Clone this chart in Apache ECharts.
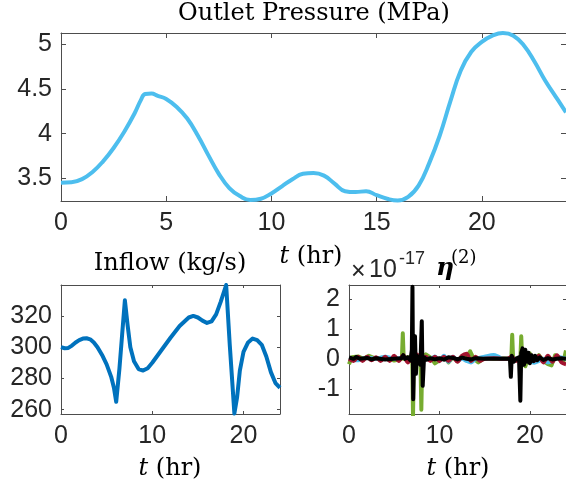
<!DOCTYPE html>
<html><head><meta charset="utf-8">
<script src="https://cdn.jsdelivr.net/npm/echarts@6/dist/echarts.min.js"></script>
<style>html,body{margin:0;padding:0;background:#fff}#c{width:566px;height:489px}</style>
</head><body><div id="c"></div>
<script>
// ---- data ----
const pressureT = [0,0.5,1,1.5,2,2.5,3,3.5,3.8,4,4.3,4.6,5,5.5,6,6.5,7,7.5,8,8.5,9,9.5,10,10.5,11,11.5,12,12.5,13,13.5,14,14.5,15,15.5,16,16.5,17,17.5,18,18.5,19,19.5,20,20.5,21,21.5,22,22.5,23,23.5,24];
const pressureV = [3.45,3.455,3.49,3.57,3.69,3.84,4.02,4.23,4.38,4.445,4.45,4.425,4.39,4.30,4.17,3.98,3.76,3.55,3.39,3.30,3.255,3.27,3.33,3.41,3.49,3.55,3.56,3.53,3.44,3.355,3.345,3.355,3.31,3.27,3.25,3.29,3.42,3.67,3.98,4.36,4.71,4.92,5.03,5.10,5.13,5.10,4.99,4.81,4.60,4.42,4.24];
const pressureXTicks = [0,5,10,15,20];
const pressureYTicks = [3.5,4,4.5,5];

const inflowT = [0,0.4,0.8,1.2,1.6,2,2.4,2.8,3.2,3.6,4,4.5,5,5.5,5.8,6.05,6.4,6.7,7.0,7.3,7.6,8,8.5,9,9.5,10,11,12,13,14,14.5,15,15.5,16,16.5,17,17.5,18.1,18.5,18.8,19.0,19.3,19.6,20,20.5,21,21.5,22,22.5,23,23.5,24];
const inflowV = [300,299.3,299.5,301,303,304.5,305.5,305.7,305,303,300,295,289,281,274,265,286,308,330,314,300,291,286,285,286.5,290,298,306,313.5,319,320,319,317,315.5,316.5,321,329,339.8,301,275,257.5,268,285,297,303,305.5,304.5,301.5,294,284,277,274];
const inflowYTicks = [260,280,300,320];
const bottomXTicks = [0,10,20];

const etaGreen = [[0,-0.18],[0.3,0.05],[1,0.08],[1.6,0.0],[2.2,0.1],[3,0.0],[4,0.05],[5,-0.06],[5.85,0.0],[5.95,0.85],[6.05,0.0],[6.5,0.06],[7.0,0.0],[7.08,-1.9],[7.18,0.0],[7.5,0.1],[7.9,0.0],[8.0,-1.7],[8.1,0.0],[8.5,0.15],[9,0.05],[9.5,-0.15],[10,-0.05],[10.5,0.08],[11,-0.12],[11.5,0.05],[12,-0.08],[12.5,0.08],[13,0.05],[13.4,0.25],[13.8,0.0],[14.3,-0.12],[15,0.04],[16,0.0],[17,0.02],[17.95,0.0],[18.05,0.8],[18.15,0.0],[18.6,0.02],[18.95,0.0],[19.05,0.75],[19.15,0.0],[19.5,-0.25],[20,0.18],[20.5,-0.08],[21,0.12],[21.5,-0.08],[22,-0.18],[22.4,-0.22],[22.8,0.12],[23.3,0.0],[23.7,-0.12],[24,0.28]];
const etaBlue = [[0,0.0],[1,-0.05],[2,0.04],[3,0.0],[4,0.07],[5,0.0],[6,0.04],[7,0.0],[8,0.07],[9,0.0],[9.5,0.08],[10,-0.07],[10.5,0.1],[11,-0.1],[11.5,0.07],[12,-0.05],[12.5,0.0],[13,-0.07],[13.5,-0.12],[14,0.0],[15,0.07],[16,0.13],[16.5,0.07],[17,0.0],[18,0.0],[19,0.0],[19.5,-0.07],[20,-0.1],[20.5,-0.13],[21,-0.07],[21.5,0.0],[22,-0.12],[22.5,-0.07],[23,0.07],[24,0.0]];
const etaRed = [[0,0.0],[0.5,-0.07],[1,0.07],[1.5,-0.07],[2,0.07],[2.5,-0.05],[3,0.05],[3.5,-0.07],[4,0.07],[4.5,-0.07],[5,0.1],[5.5,-0.07],[6,0.12],[6.5,-0.12],[7,0.07],[7.5,0.14],[8,-0.12],[8.5,0.07],[9,-0.07],[9.5,0.07],[10,-0.08],[10.5,0.07],[11,-0.07],[11.5,0.07],[12,-0.1],[12.5,0.1],[13,0.17],[13.5,-0.07],[14,0.07],[14.5,-0.07],[15,0.0],[16,0.02],[17,0.0],[17.5,0.0],[18,0.07],[18.5,-0.07],[19,0.07],[19.5,-0.1],[20,0.12],[20.5,-0.07],[21,0.1],[21.5,-0.12],[22,0.1],[22.5,-0.1],[23,0.12],[23.5,-0.12],[24,-0.18]];
const etaBlack = [[0,0.05],[0.5,0.0],[0.8,0.06],[1.2,0.0],[2,0.03],[2.5,-0.02],[3,0.02],[4,-0.02],[5,0.0],[5.8,0.02],[6.0,0.12],[6.2,0.0],[6.5,0.05],[6.8,-0.05],[6.95,0.3],[7.02,2.4],[7.1,-1.35],[7.2,0.1],[7.3,0.75],[7.4,-0.5],[7.5,0.1],[7.7,0.0],[7.9,-0.2],[8.05,1.25],[8.15,-0.9],[8.3,0.05],[8.6,-0.03],[9,0.02],[9.5,-0.02],[10,0.02],[10.5,-0.03],[11,0.05],[11.5,0.03],[12,-0.02],[12.5,0.04],[13,0.0],[13.5,-0.02],[14,0.02],[15,0.0],[16,0.0],[17,0.0],[17.8,0.0],[17.9,-0.6],[18.0,0.1],[18.2,-0.1],[18.5,0.0],[18.8,0.05],[18.95,-1.4],[19.05,0.2],[19.2,0.35],[19.35,-0.2],[19.5,0.3],[19.7,-0.1],[19.85,0.2],[20,-0.15],[20.2,0.12],[20.4,-0.08],[20.6,0.1],[20.8,-0.05],[21.1,0.05],[21.5,-0.04],[22,0.02],[22.5,-0.02],[23,0.0],[23.5,0.02],[24,0.0]];
const etaYTicks = [-1,0,1,2];

// ---- styling / layout ----
const axisColor = '#4d4d4d';
const labelColor = '#262626';
const tickFont = 'Liberation Sans';
const serif = 'DejaVu Serif';

function xAx(g, min, max, ticks, len, main) {
  return {type:'value', gridIndex:g, position: main ? 'bottom' : 'top', min, max,
    axisLine:{show:true, onZero:false, lineStyle:{color:axisColor, width:1}},
    axisTick:{show:true, inside:true, length:len, customValues:ticks, lineStyle:{color:axisColor, width:1}},
    axisLabel:{show:main, customValues:ticks, margin:10, color:labelColor, fontSize:25, fontFamily:tickFont},
    splitLine:{show:false}};
}
function yAx(g, min, max, ticks, len, main) {
  return {type:'value', gridIndex:g, position: main ? 'left' : 'right', min, max,
    axisLine:{show:true, onZero:false, lineStyle:{color:axisColor, width:1}},
    axisTick:{show:true, inside:true, length:len, customValues:ticks, lineStyle:{color:axisColor, width:1}},
    axisLabel:{show:main, customValues:ticks, margin:9, color:labelColor, fontSize:25, fontFamily:tickFont},
    splitLine:{show:false}};
}
function pairs(t, v) { return t.map((x, i) => [x, v[i]]); }
function txt(x, y, text, size, extra) {
  return Object.assign({type:'text', x, y, silent:true, style:Object.assign({
    text, fontSize:size, fontFamily:serif, fill:'#000',
    textAlign:'center', align:'center', textVerticalAlign:'middle', verticalAlign:'middle',
    rich:{i:{fontStyle:'italic', fontSize:size, fontFamily:serif, fill:'#000'}}
  }, extra || {})});
}

const chart = echarts.init(document.getElementById('c'), null, {renderer:'canvas'});
chart.setOption({
  animation:false,
  backgroundColor:'#fff',
  grid:[
    {left:61, top:33, width:506, height:168},
    {left:61, top:285, width:219, height:129},
    {left:349, top:285, width:219, height:129}
  ],
  xAxis:[
    xAx(0, 0, 24, pressureXTicks, 5, true), xAx(0, 0, 24, pressureXTicks, 5, false),
    xAx(1, 0, 24, bottomXTicks, 3, true), xAx(1, 0, 24, bottomXTicks, 3, false),
    xAx(2, 0, 24, bottomXTicks, 3, true), xAx(2, 0, 24, bottomXTicks, 3, false)
  ],
  yAxis:[
    yAx(0, 3.245, 5.13, pressureYTicks, 5, true), yAx(0, 3.245, 5.13, pressureYTicks, 5, false),
    yAx(1, 257.2, 339.8, inflowYTicks, 3, true), yAx(1, 257.2, 339.8, inflowYTicks, 3, false),
    yAx(2, -1.84, 2.46, etaYTicks, 3, true), yAx(2, -1.84, 2.46, etaYTicks, 3, false)
  ],
  series:[
    {type:'line', xAxisIndex:0, yAxisIndex:0, data:pairs(pressureT, pressureV), showSymbol:false, smooth:0.45, clip:true, lineStyle:{color:'#4DBEEE', width:4}},
    {type:'line', xAxisIndex:2, yAxisIndex:2, data:pairs(inflowT, inflowV), showSymbol:false, clip:true, lineStyle:{color:'#0072BD', width:4, join:'round'}},
    {type:'line', xAxisIndex:4, yAxisIndex:4, data:etaGreen, showSymbol:false, clip:true, lineStyle:{color:'#77AC30', width:4, join:'round'}},
    {type:'line', xAxisIndex:4, yAxisIndex:4, data:etaBlue, showSymbol:false, smooth:0.3, clip:true, lineStyle:{color:'#4DBEEE', width:4}},
    {type:'line', xAxisIndex:4, yAxisIndex:4, data:etaRed, showSymbol:false, smooth:0.3, clip:true, lineStyle:{color:'#A2142F', width:4}},
    {type:'line', xAxisIndex:4, yAxisIndex:4, data:etaBlack, showSymbol:false, clip:true, lineStyle:{color:'#000000', width:4, join:'round'}}
  ],
  graphic:[
    txt(314, 14, 'Outlet Pressure (MPa)', 24),
    txt(311, 257, '{i|t} (hr)', 24),
    txt(170, 264, 'Inflow (kg/s)', 24),
    txt(170, 469, '{i|t} (hr)', 24),
    txt(458, 469, '{i|t} (hr)', 24),
    txt(351, 272, '×', 25, {fontFamily:tickFont, fill:labelColor, textAlign:'left', align:'left'}),
    txt(369, 270, '10', 25, {fontFamily:tickFont, fill:labelColor, textAlign:'left', align:'left'}),
    txt(399, 259, '-17', 18, {fontFamily:tickFont, fill:labelColor, textAlign:'left', align:'left'}),
    txt(436, 268, 'η', 25, {fontStyle:'italic', fontWeight:'bold', textAlign:'left', align:'left'}),
    txt(451, 258, '(2)', 18, {textAlign:'left', align:'left'})
  ]
});
</script></body></html>
